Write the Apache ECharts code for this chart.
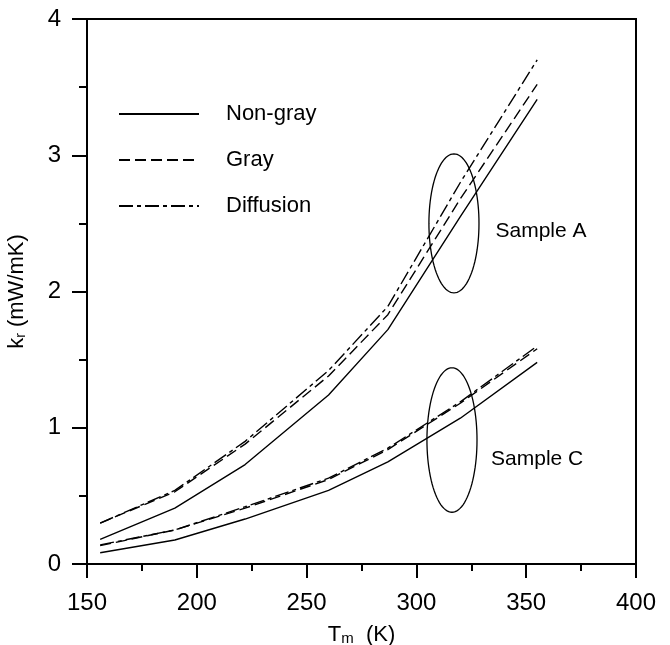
<!DOCTYPE html>
<html>
<head>
<meta charset="utf-8">
<script src="https://cdn.jsdelivr.net/npm/echarts@6/dist/echarts.min.js"></script>
<style>html,body{margin:0;padding:0;background:#fff}#c{width:670px;height:645px}</style>
</head>
<body>
<div id="c"></div>
<script>
// Temperatures (K)
var temps = [156, 190, 222, 260, 287, 320, 355];
// Sample A
var nonGrayA   = [0.18, 0.41, 0.73, 1.24, 1.72, 2.55, 3.41];
var grayA      = [0.30, 0.53, 0.88, 1.38, 1.83, 2.68, 3.52];
var diffusionA = [0.30, 0.54, 0.90, 1.42, 1.89, 2.80, 3.70];
// Sample C
var nonGrayC   = [0.083, 0.176, 0.33, 0.54, 0.75, 1.07, 1.48];
var grayC      = [0.135, 0.25, 0.41, 0.62, 0.84, 1.18, 1.58];
var diffusionC = [0.14, 0.25, 0.42, 0.63, 0.85, 1.19, 1.60];
// Annotation ellipses: centre T, centre k, half-width (K), half-height (k)
var ellipseT  = [317.1, 316.2];
var ellipseK  = [2.50, 0.91];
var ellipseRT = [11.4, 11.4];
var ellipseRK = [0.51, 0.53];
var sampleLabels = ['Sample A', 'Sample C'];
var labelT = [336, 334];
var labelK = [2.44, 0.77];

var FONT = '"Liberation Sans", Arial, sans-serif';

function pairs(ys) { return temps.map(function (t, i) { return [t, ys[i]]; }); }

function lineSeries(name, ys, dash) {
  return {
    name: name, type: 'line', data: pairs(ys), symbol: 'none', showSymbol: false,
    silent: true, animation: false,
    itemStyle: { color: '#000' },
    lineStyle: { color: '#000', width: 1.4, type: dash }
  };
}

var grayDash = [11, 5];
var diffDash = [14, 4, 4, 4];

var ellipseData = ellipseT.map(function (t, i) { return [t, ellipseK[i], ellipseRT[i], ellipseRK[i]]; });
var labelData = labelT.map(function (t, i) { return [t, labelK[i], sampleLabels[i]]; });

var chart = echarts.init(document.getElementById('c'));
chart.setOption({
  animation: false,
  backgroundColor: '#fff',
  grid: { left: 87, right: 34, top: 19, bottom: 81, show: true, borderColor: '#000', borderWidth: 2,
          containLabel: false, outerBoundsMode: 'none' },
  legend: {
    data: ['Non-gray', 'Gray', 'Diffusion'],
    orient: 'vertical', left: 113, top: 98,
    itemWidth: 80, itemHeight: 14, itemGap: 24,
    selectedMode: false,
    itemStyle: { opacity: 0 },
    textStyle: { fontSize: 22, color: '#000', fontFamily: FONT, padding: [0, 0, 0, 22] }
  },
  xAxis: {
    type: 'value', min: 150, max: 400, interval: 50,
    name: 'T{sub|m}  (K)', nameLocation: 'middle', nameGap: 59,
    nameTextStyle: { fontSize: 22, color: '#000', fontFamily: FONT,
      rich: { sub: { fontSize: 15, verticalAlign: 'bottom', padding: [8, 0, 0, 0], fontFamily: FONT, color: '#000' } } },
    axisLine: { lineStyle: { color: '#000', width: 2 } },
    axisTick: { show: true, inside: false, length: 14, lineStyle: { color: '#000', width: 2 } },
    minorTick: { show: true, splitNumber: 2, length: 7, lineStyle: { color: '#000', width: 2 } },
    splitLine: { show: false },
    axisLabel: { fontSize: 24, color: '#000', margin: 27, fontFamily: FONT }
  },
  yAxis: {
    type: 'value', min: 0, max: 4, interval: 1,
    name: 'k{sub|r} (mW/mK)', nameLocation: 'middle', nameGap: 59,
    nameTextStyle: { fontSize: 22, color: '#000', fontFamily: FONT,
      rich: { sub: { fontSize: 14, verticalAlign: 'bottom', padding: [8, 0, 0, 0], fontFamily: FONT, color: '#000' } } },
    axisLine: { lineStyle: { color: '#000', width: 2 } },
    axisTick: { show: true, inside: false, length: 15, lineStyle: { color: '#000', width: 2 } },
    minorTick: { show: true, splitNumber: 2, length: 8, lineStyle: { color: '#000', width: 2 } },
    splitLine: { show: false },
    axisLabel: { fontSize: 24, color: '#000', margin: 26, fontFamily: FONT }
  },
  series: [
    lineSeries('Non-gray', nonGrayA, 'solid'),
    lineSeries('Gray', grayA, grayDash),
    lineSeries('Diffusion', diffusionA, diffDash),
    lineSeries('Non-gray', nonGrayC, 'solid'),
    lineSeries('Gray', grayC, grayDash),
    lineSeries('Diffusion', diffusionC, diffDash),
    {
      type: 'custom', silent: true, clip: false, data: ellipseData,
      renderItem: function (params, api) {
        var c = api.coord([api.value(0), api.value(1)]);
        var s = api.size([api.value(2), api.value(3)]);
        var pts = [];
        for (var i = 0; i < 96; i++) {
          var a = i / 96 * Math.PI * 2;
          pts.push([c[0] + s[0] * Math.cos(a), c[1] + s[1] * Math.sin(a)]);
        }
        return { type: 'polygon', shape: { points: pts }, style: { fill: 'none', stroke: '#000', lineWidth: 1.3 } };
      }
    },
    {
      type: 'custom', silent: true, clip: false, data: labelData,
      renderItem: function (params, api) {
        var c = api.coord([api.value(0), api.value(1)]);
        return { type: 'text', x: c[0], y: c[1],
          style: { text: labelData[params.dataIndex][2], fill: '#000', font: '21px ' + FONT, verticalAlign: 'middle', align: 'left' } };
      }
    }
  ]
});
</script>
</body>
</html>
